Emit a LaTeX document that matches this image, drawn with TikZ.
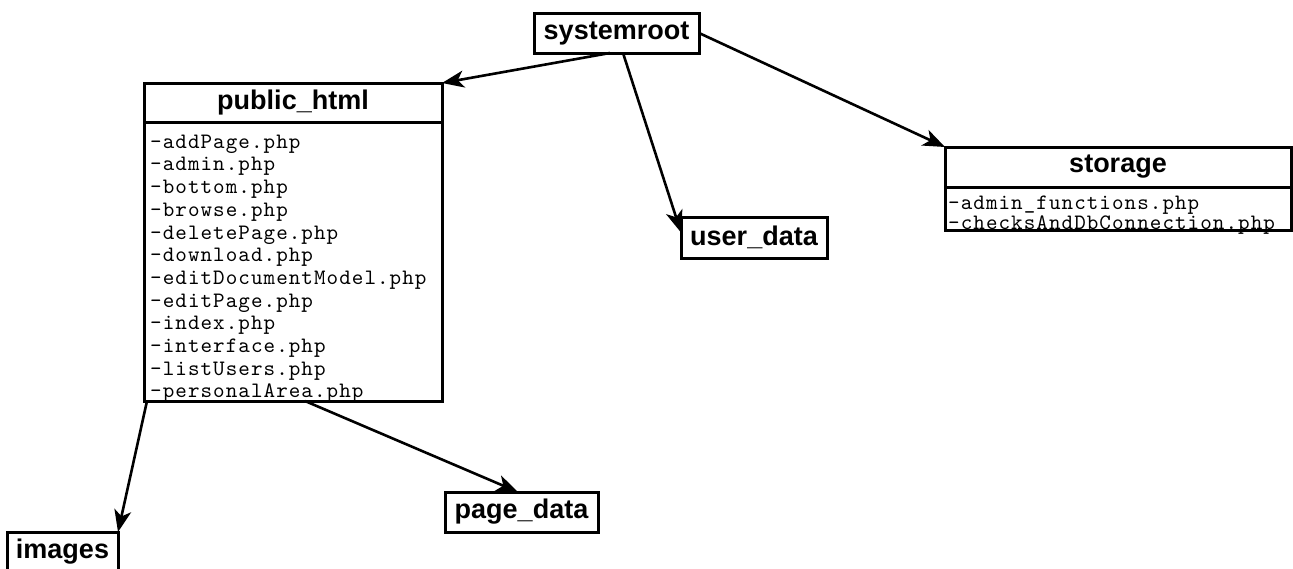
\documentclass[tikz,border=0pt]{standalone}
\usepackage{fontspec}
\newfontfamily\hdrfont{Liberation Sans}
\newfontfamily\monof[LetterSpace=4.8]{lmmono10-regular.otf}
\usetikzlibrary{arrows.meta,calc}
\begin{document}
\begin{tikzpicture}[x=1pt,y=-1pt,
  box/.style={draw, line width=3pt, fill=white, inner sep=0pt, outer sep=0pt},
  hdr/.style={font=\hdrfont\bfseries\fontsize{27}{30}\selectfont},
  mono/.style={font=\monof\fontsize{22}{24}\selectfont, inner sep=0pt, anchor=base west},
  conn/.style={line width=2.6pt, -{Stealth[length=22pt,width=17pt,inset=6pt]}}]
\useasboundingbox (0,0) rectangle (1293,568);
\fill[white] (0,0) rectangle (1293,568);

\node[box, hdr, minimum width=165pt, minimum height=40pt] (sys) at (616.5,33) {systemroot};

\node[box, hdr, minimum width=298pt, minimum height=39pt] (pubh) at (293,102.5) {public\_html};
\node[box, minimum width=298pt, minimum height=279pt] (pubb) at (293,261.5) {};
\foreach \t [count=\i] in {-addPage.php,-admin.php,-bottom.php,-browse.php,-deletePage.php,-download.php,-editDocumentModel.php,-editPage.php,-index.php,-interface.php,-listUsers.php,-personalArea.php}
  \node[mono] (pl\i) at (150,125.5+22.7*\i) {\t};

\node[box, hdr, minimum width=346pt, minimum height=40pt] (sth) at (1118,167) {storage};
\node[box, minimum width=346pt, minimum height=43pt] (stb) at (1118,208.5) {};
\node[mono] (sl1) at (948,209.5) {-admin\_functions.php};
\node[mono] (sl2) at (948,229) {-checksAndDbConnection.php};

\node[box, hdr, minimum width=146pt, minimum height=41pt] (user) at (754,237.5) {user\_data};
\node[box, hdr, minimum width=153pt, minimum height=40pt] (page) at (521.5,512) {page\_data};
\node[box, hdr, minimum width=111pt, minimum height=40pt] (images) at (62.5,552) {images};

\draw[conn] ($(sys.south)+(-6.5,0)$) -- (pubh.north east);
\draw[conn] ($(sys.south)+(6.5,0)$) -- ($(user.west)+(0,-5)$);
\draw[conn] (sys.east) -- (sth.north west);
\draw[conn] ($(pubb.south west)+(3,0)$) -- (images.north east);
\draw[conn] ($(pubb.south)+(12,0)$) -- ($(page.north)+(-3.5,0)$);
\end{tikzpicture}
\end{document}
